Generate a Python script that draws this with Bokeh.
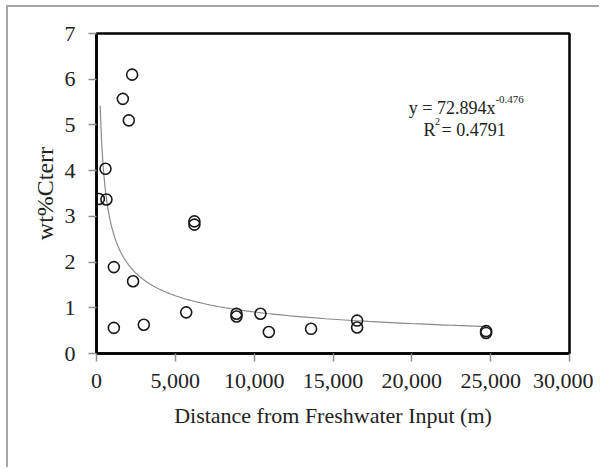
from bokeh.plotting import figure
from bokeh.layouts import column
from bokeh.models import Range1d, NumeralTickFormatter, Label, FixedTicker
from bokeh.embed import file_html
from bokeh.resources import INLINE
import numpy as np

# Data
distance_m = [150, 630, 570, 1100, 1100, 1670, 2050, 2260, 2320, 3000,
              5690, 6210, 6210, 8880, 8880, 10400, 10930, 13610,
              16530, 16530, 24710, 24710]
wt_cterr = [3.38, 3.37, 4.04, 1.89, 0.56, 5.57, 5.10, 6.10, 1.58, 0.63,
            0.90, 2.89, 2.82, 0.87, 0.81, 0.87, 0.47, 0.54,
            0.72, 0.57, 0.49, 0.45]

# Power trendline given on the chart: y = 72.894 x^-0.476
fit_a = 72.894
fit_b = -0.476
fit_x_start = 235
fit_x_end = 24710

x_ticks = [0, 5000, 10000, 15000, 20000, 25000, 30000]
y_ticks = [0, 1, 2, 3, 4, 5, 6, 7]

FONT = "Liberation Serif"

p = figure(width=585, height=453, output_backend="svg", toolbar_location=None,
           x_range=Range1d(0, 30000), y_range=Range1d(0, 7),
           min_border_left=88, min_border_right=24, min_border_top=26,
           min_border_bottom=107)

p.xgrid.visible = False
p.ygrid.visible = False
p.background_fill_color = "white"
p.border_fill_color = "white"
p.outline_line_color = "black"
p.outline_line_width = 2.5

for ax in (p.xaxis[0], p.yaxis[0]):
    ax.axis_line_color = "black"
    ax.axis_line_width = 2.5
    ax.major_tick_line_color = "#909090"
    ax.major_tick_line_width = 1.5
    ax.major_tick_out = 8
    ax.major_tick_in = 0
    ax.minor_tick_line_color = None
    ax.major_label_text_font = FONT
    ax.major_label_text_font_size = "22px"
    ax.major_label_text_color = "#222222"
    ax.axis_label_text_font = FONT
    ax.axis_label_text_font_style = "normal"
    ax.axis_label_text_color = "#222222"

p.xaxis[0].ticker = FixedTicker(ticks=x_ticks)
p.yaxis[0].ticker = FixedTicker(ticks=y_ticks)
p.xaxis[0].formatter = NumeralTickFormatter(format="0,0")
p.xaxis[0].major_label_standoff = 12
p.yaxis[0].major_label_standoff = 13
p.xaxis[0].axis_label = "Distance from Freshwater Input (m)"
p.yaxis[0].axis_label = "wt%Cterr"
p.xaxis[0].axis_label_text_font_size = "22px"
p.yaxis[0].axis_label_text_font_size = "24px"
p.xaxis[0].axis_label_standoff = 12
p.yaxis[0].axis_label_standoff = 4

# trendline
fx = np.geomspace(fit_x_start, fit_x_end, 300)
fy = fit_a * fx ** fit_b
p.line(fx, fy, line_color="#8a8a8a", line_width=1.2)

p.scatter(distance_m, wt_cterr, marker="circle", size=11, fill_color=None,
          line_color="#1a1a1a", line_width=1.6)

# equation annotation
eq_size = "18px"
p.add_layout(Label(x=25300, y=5.38, text="y = 72.894x", text_align="right",
                   text_baseline="alphabetic", text_font=FONT,
                   text_font_size=eq_size, text_color="#222222"))
p.add_layout(Label(x=25300, y=5.56, text="-0.476", text_align="left",
                   text_baseline="alphabetic", text_font=FONT,
                   text_font_size="11px", text_color="#222222"))
p.add_layout(Label(x=20740, y=4.90, text="R", text_align="left",
                   text_baseline="alphabetic", text_font=FONT,
                   text_font_size=eq_size, text_color="#222222"))
p.add_layout(Label(x=21470, y=5.08, text="2", text_align="left",
                   text_baseline="alphabetic", text_font=FONT,
                   text_font_size="10px", text_color="#222222"))
p.add_layout(Label(x=21880, y=4.90, text="= 0.4791", text_align="left",
                   text_baseline="alphabetic", text_font=FONT,
                   text_font_size=eq_size, text_color="#222222"))

lay = column(p, styles={"border-top": "2px solid #a6a6a6",
                        "border-left": "2px solid #a6a6a6",
                        "margin-left": "6px", "margin-top": "5px",
                        "padding-right": "6px", "padding-bottom": "7px"})

open("out.html", "w").write(file_html(lay, INLINE))
